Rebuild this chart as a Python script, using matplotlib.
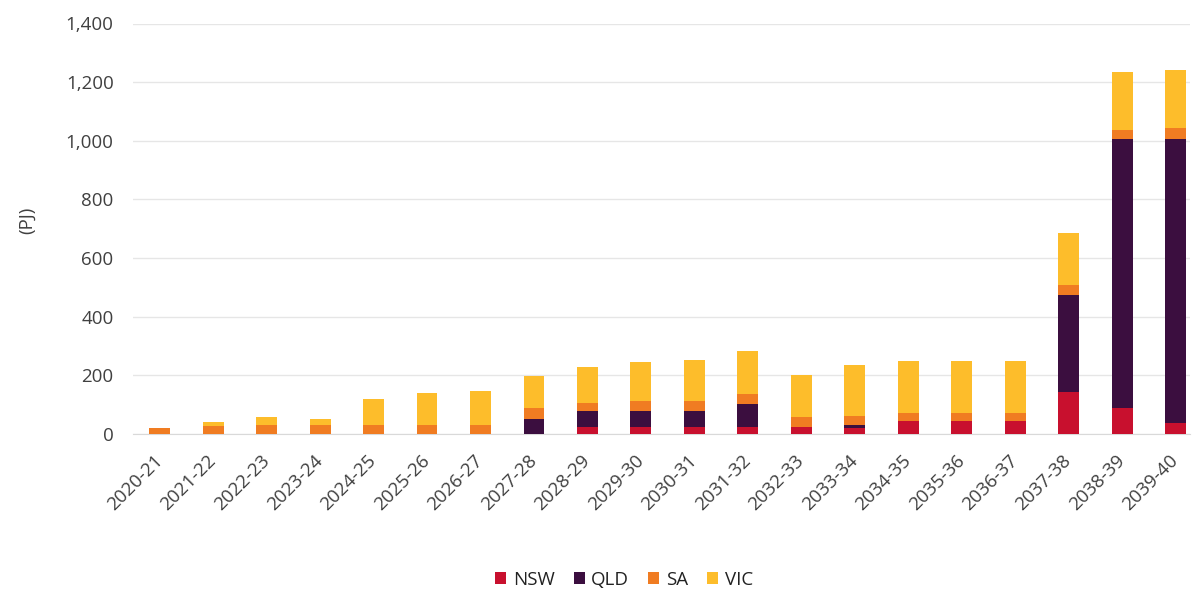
import matplotlib
matplotlib.use("Agg")
import matplotlib.pyplot as plt
from matplotlib.ticker import FuncFormatter
import numpy as np

plt.rcParams['font.family'] = ['Open Sans', 'DejaVu Sans']

years = ["2020-21", "2021-22", "2022-23", "2023-24", "2024-25", "2025-26", "2026-27",
         "2027-28", "2028-29", "2029-30", "2030-31", "2031-32", "2032-33", "2033-34",
         "2034-35", "2035-36", "2036-37", "2037-38", "2038-39", "2039-40"]
nsw = [0, 0, 0, 0, 0, 0, 0, 0, 25, 25, 25, 25, 23, 22, 44, 44, 44, 142, 88, 38]
qld = [0, 0, 0, 0, 0, 0, 0, 52, 52, 52, 52, 77, 0, 8, 2, 2, 2, 333, 918, 968]
sa = [22, 26, 32, 32, 32, 32, 32, 36, 29, 35, 35, 34, 34, 33, 26, 26, 26, 34, 30, 36]
vic = [0, 14, 25, 19, 87, 108, 113, 111, 124, 132, 139, 148, 143, 171, 176, 176, 176, 177, 200, 199]

series = [("NSW", nsw, "#C8102E"), ("QLD", qld, "#3B0E3F"),
          ("SA", sa, "#F07C22"), ("VIC", vic, "#FDBD2B")]

fig = plt.figure(figsize=(11.94, 5.92), dpi=100)
ax = fig.add_axes([133/1194, 1 - 434/592, (1190-133)/1194, (434-23.5)/592])

x = np.arange(len(years))
bottom = np.zeros(len(years))
for name, vals, col in series:
    v = np.array(vals, dtype=float)
    ax.bar(x, v, 0.39, bottom=bottom, color=col, label=name, zorder=3)
    bottom += v

ax.set_ylim(0, 1400)
ax.set_xlim(-0.5, 19.27)
ax.set_yticks(np.arange(0, 1401, 200))
ax.yaxis.set_major_formatter(FuncFormatter(lambda v, p: f"{int(v):,}"))
ax.grid(axis='y', color='#E6E6E6', linewidth=1, zorder=0)
for s in ['top', 'right', 'left']:
    ax.spines[s].set_visible(False)
ax.spines['bottom'].set_color('#D9D9D9')
ax.tick_params(axis='both', length=0, colors='#404040', labelsize=13.5)
ax.tick_params(axis='y', pad=14)
ax.set_xticks(x)
ax.set_xticklabels(years, rotation=45, ha='right', va='center', rotation_mode='anchor')
ax.tick_params(axis='x', pad=17)

fig.text(27/1194, 1 - 220/592, "(PJ)", rotation=90, fontsize=13.5, color='#404040',
         ha='center', va='center')

ax.legend(loc='center', bbox_to_anchor=(624/1194, 1 - 580/592), bbox_transform=fig.transFigure,
          ncol=4, frameon=False, handlelength=0.6, handleheight=0.6, handletextpad=0.35,
          columnspacing=1.0, fontsize=13.5, labelcolor='#222222')

fig.savefig("out.png", dpi=100)
